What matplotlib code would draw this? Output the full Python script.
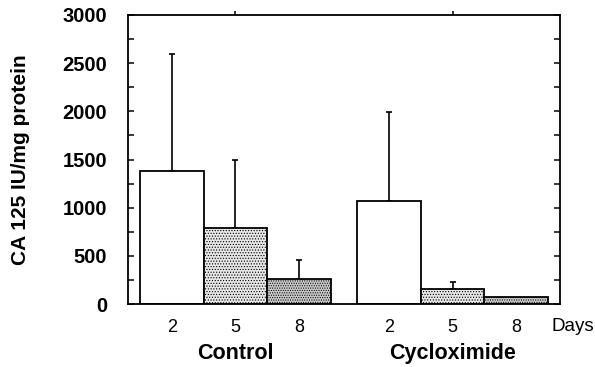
import numpy as np
import matplotlib
matplotlib.use("Agg")
import matplotlib.pyplot as plt

plt.rcParams['font.family'] = ['Liberation Sans', 'DejaVu Sans']
plt.rcParams['hatch.linewidth'] = 0.5

# Data
groups = ["Control", "Cycloximide"]
days = ["2", "5", "8"]
control_mean = [1380, 790, 255]
control_top = [2600, 1490, 460]
cyclo_mean = [1065, 160, 75]
cyclo_top = [1990, 225, 75]

# Bar styles per day
faces = ["white", "#e6e6e6", "#c8c8c8"]
hatches = [None, "......", "......."]

fig = plt.figure(figsize=(5.95, 3.67), dpi=100)
ax = fig.add_axes([128/595, 1 - 304/367, (560-128)/595, (304-15)/367])

gap = 0.425
x_ctrl = np.arange(3)
x_cyc = np.arange(3) + 3 + gap

for xs, means, tops in [(x_ctrl, control_mean, control_top),
                        (x_cyc, cyclo_mean, cyclo_top)]:
    for i in range(3):
        ax.bar(xs[i], means[i], width=1.0, color=faces[i], hatch=hatches[i],
               edgecolor="black", linewidth=1.3, zorder=2)
        if tops[i] > means[i]:
            ax.errorbar(xs[i], means[i], yerr=[[0], [tops[i] - means[i]]],
                        fmt="none", ecolor="black", elinewidth=1.2,
                        capsize=2.5, capthick=1.2, zorder=1)

ax.set_xlim(-0.69, x_cyc[-1] + 0.69)
ax.set_ylim(0, 3000)

ax.set_yticks(np.arange(0, 3001, 500))
ax.set_yticks(np.arange(0, 3001, 250), minor=True)
ax.tick_params(axis="y", which="both", direction="in", length=4, width=1.1,
               right=True, labelsize=14.5, pad=15)
for lab in ax.get_yticklabels():
    lab.set_fontweight("bold")

ax.set_xticks(list(x_ctrl) + list(x_cyc))
ax.set_xticklabels(days + days, fontsize=13)
ax.tick_params(axis="x", length=0, pad=11)

# Small ticks on top at group centres
sec = ax.secondary_xaxis("top")
sec.set_xticks([x_ctrl[1], x_cyc[1]])
sec.set_xticklabels([])
sec.tick_params(length=3, width=1.1, direction="out")
sec.spines["top"].set_visible(False)

for sp in ax.spines.values():
    sp.set_linewidth(1.3)

ax.set_ylabel("CA 125 IU/mg protein", fontsize=15, fontweight="bold", labelpad=23)

ax.text(x_cyc[-1] + 0.55, -0.078, "Days", transform=ax.get_xaxis_transform(),
        ha="left", va="center", fontsize=13.5)
ax.text(x_ctrl[1], -0.172, groups[0], transform=ax.get_xaxis_transform(),
        ha="center", va="center", fontsize=15.5, fontweight="bold")
ax.text(x_cyc[1], -0.172, groups[1], transform=ax.get_xaxis_transform(),
        ha="center", va="center", fontsize=15.5, fontweight="bold")

fig.savefig("out.png", dpi=100)
